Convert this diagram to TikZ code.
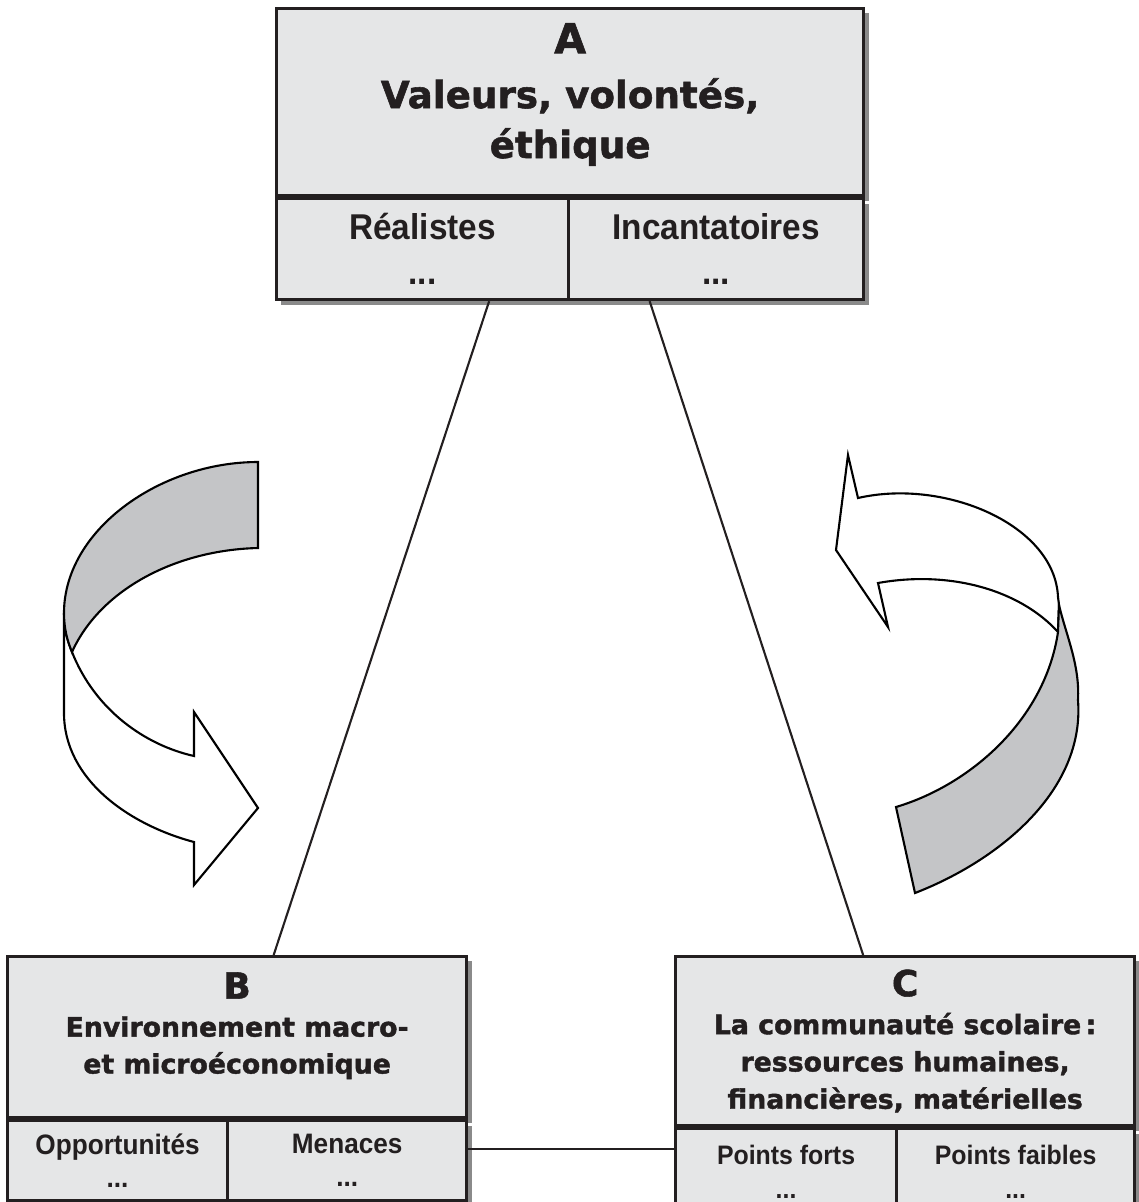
\documentclass[tikz,border=0pt]{standalone}
\usepackage{fontspec}
\usetikzlibrary{shadows}
\newfontfamily\headfont{DejaVu Sans}[BoldFeatures={FakeBold=1.5}]
\newfontfamily\cellfont{Liberation Sans}[FakeStretch=0.93]
\definecolor{ink}{RGB}{35,31,32}
\definecolor{boxgray}{RGB}{229,230,231}
\definecolor{ribbongray}{RGB}{196,197,199}

\begin{document}
\begin{tikzpicture}[x=0.01cm,y=-0.01cm,
	part/.style={draw=ink,fill=boxgray,line width=0.85pt,inner sep=0pt,text=ink,align=center,
		drop shadow={shadow xshift=1.4pt,shadow yshift=-1.4pt,fill=black!65,opacity=0.7}},
	link/.style={draw=ink,line width=0.6pt},
	ribbon/.style={draw=black,line width=0.6pt,line join=miter}]
	\useasboundingbox (0,0) rectangle (1139,1202);
	\clip (0,0) rectangle (1139,1202);
	% box A
	\node[part,font=\headfont\bfseries\fontsize{10.6}{14.2}\selectfont,minimum width=5.87cm,minimum height=1.87cm,anchor=north west] (A) at (275,7)
		{{\fontsize{11.7}{14.2}\selectfont A}\\[1.4pt]Valeurs, volontés,\\éthique\rule[-6.5pt]{0pt}{0pt}};
	\node[part,font=\cellfont\bfseries\fontsize{10.2}{12.8}\selectfont,minimum width=2.92cm,minimum height=1.01cm,anchor=north west] (A1) at (A.south west) {Réalistes\\...};
	\node[part,font=\cellfont\bfseries\fontsize{10.2}{12.8}\selectfont,minimum width=2.95cm,minimum height=1.01cm,anchor=north east] (A2) at (A.south east) {Incantatoires\\...};
	% box B
	\node[part,font=\headfont\bfseries\fontsize{7.6}{10.5}\selectfont,minimum width=4.59cm,minimum height=1.61cm,anchor=north west] (B) at (6,955)
		{{\fontsize{10.2}{10.5}\selectfont B}\\[0.3pt]Environnement macro-\\et microéconomique\rule[-8pt]{0pt}{0pt}};
	\node[part,font=\cellfont\bfseries\fontsize{8}{9.4}\selectfont,minimum width=2.2cm,minimum height=0.8cm,anchor=north west] (B1) at (B.south west) {Opportunités\\...};
	\node[part,font=\cellfont\bfseries\fontsize{8}{9.4}\selectfont,minimum width=2.39cm,minimum height=0.8cm,anchor=north east] (B2) at (B.south east) {Menaces\\...};
	% box C
	\node[part,font=\headfont\bfseries\fontsize{7.6}{10.6}\selectfont,minimum width=4.59cm,minimum height=1.69cm,anchor=north west] (C) at (674,955)
		{{\fontsize{10.2}{10.6}\selectfont C}\\[0.2pt]La communauté scolaire\,:\\ressources humaines,\\financières, matérielles};
	\node[part,font=\cellfont\bfseries\fontsize{7.6}{9.6}\selectfont,minimum width=2.21cm,minimum height=0.86cm,anchor=north west] (C1) at (C.south west) {Points forts\\...};
	\node[part,font=\cellfont\bfseries\fontsize{7.6}{9.6}\selectfont,minimum width=2.38cm,minimum height=0.86cm,anchor=north east] (C2) at (C.south east) {Points faibles\\...};
	% links
	\coordinate (bc) at (570,1149);
	\draw[link] (A1.-38.3) -- (B.66.8);
	\draw[link] (A2.218.1) -- (C.116.2);
	\draw[link] (bc -| B2.east) -- (bc -| C1.west);
	% left ribbon arrow
	\filldraw[ribbon,fill=white] (64,613) -- (64,713) .. controls (64,780) and (130,825) .. (194,842)
		-- (194,885) -- (258,808) -- (194,712) -- (194,756)
		.. controls (145,745) and (95,710) .. (72,652) .. controls (67,640) and (64,628) .. cycle;
	\filldraw[ribbon,fill=ribbongray] (258,462) -- (258,548) .. controls (175,550) and (100,590) .. (72,652)
		.. controls (67,640) and (64,628) .. (64,613) .. controls (64,530) and (160,462) .. cycle;
	% right ribbon arrow
	\filldraw[ribbon,fill=white] (858,498) -- (848,455) -- (836,550) -- (888,627) -- (878,583)
		.. controls (950,570) and (1020,590) .. (1058,632) -- (1059,605) -- (1058,597)
		.. controls (1055,525) and (945,478) .. cycle;
	\filldraw[ribbon,fill=ribbongray] (1059,605) .. controls (1066,635) and (1080,665) .. (1078,700)
		.. controls (1085,790) and (1000,860) .. (915,893) -- (896,807)
		.. controls (970,785) and (1045,720) .. (1058,632) -- cycle;
\end{tikzpicture}
\end{document}
